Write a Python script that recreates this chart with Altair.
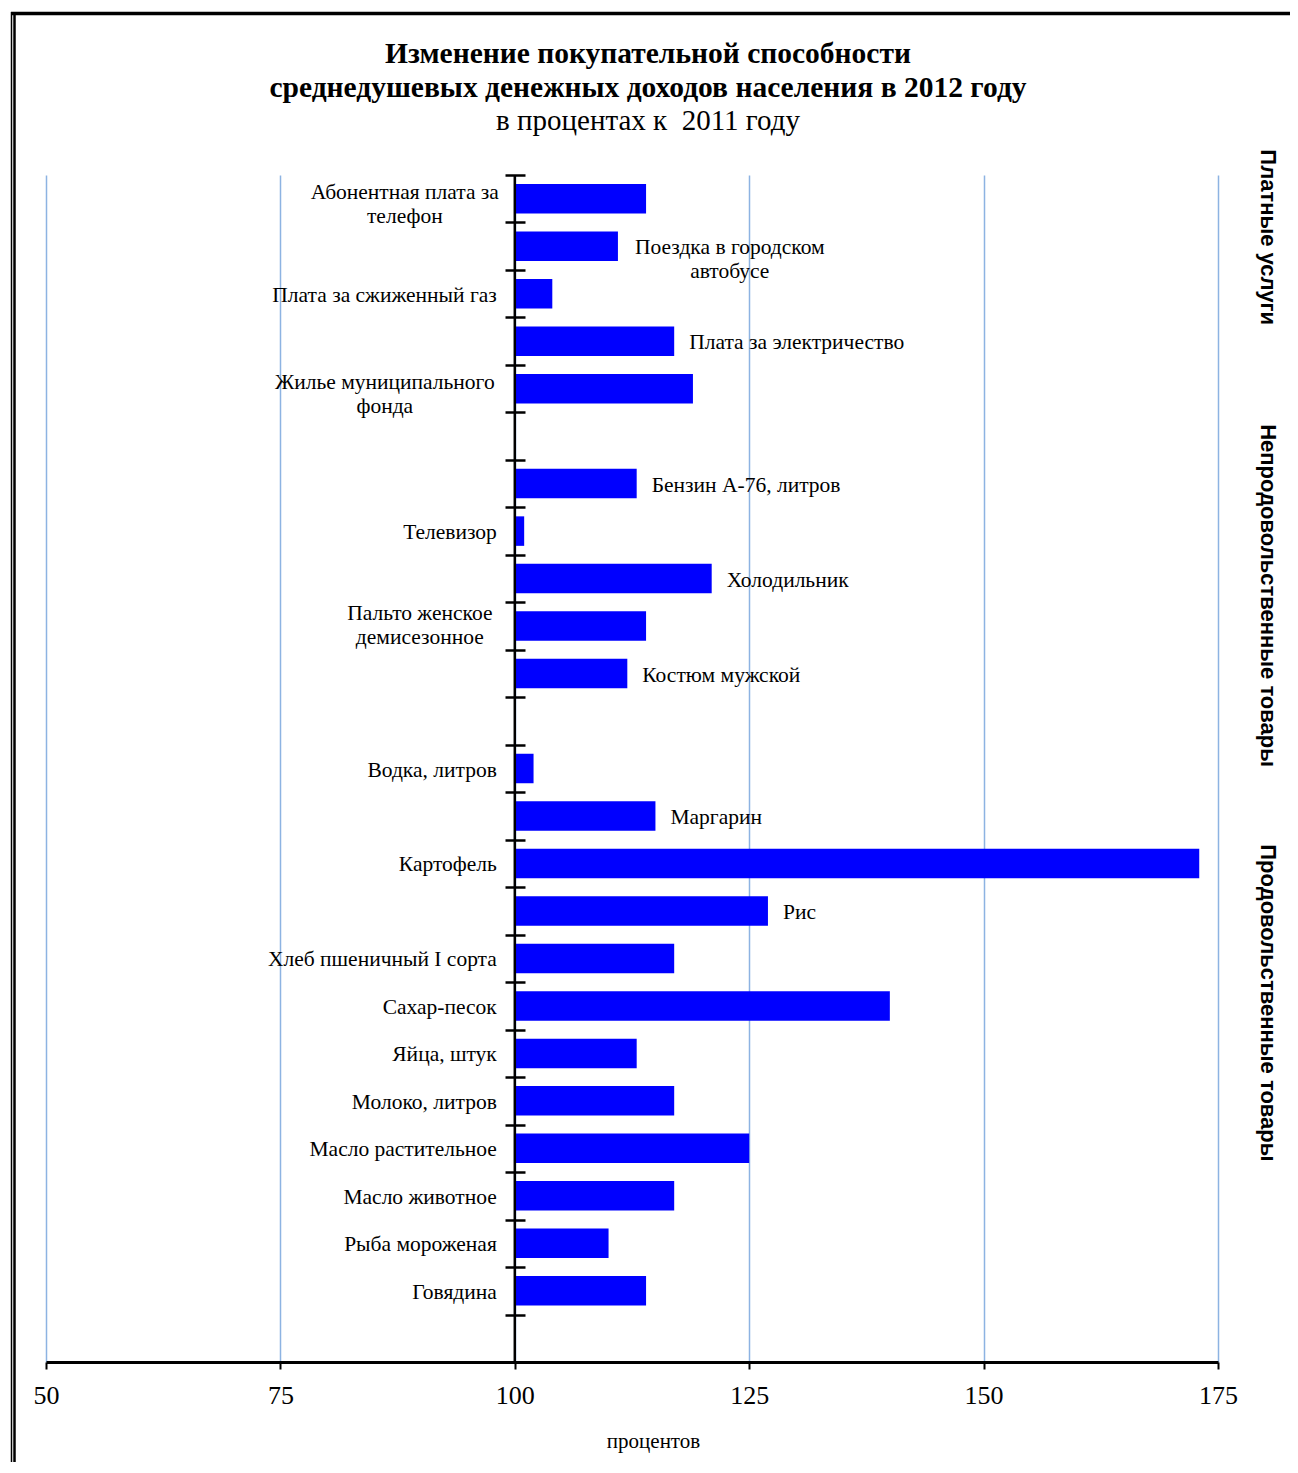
import altair as alt
import pandas as pd

# ---------------- data ----------------
categories = [
    "Абонентная плата за телефон", "Поездка в городском автобусе", "Плата за сжиженный газ",
    "Плата за электричество", "Жилье муниципального фонда",
    "Бензин А-76, литров", "Телевизор", "Холодильник", "Пальто женское демисезонное", "Костюм мужской",
    "Водка, литров", "Маргарин", "Картофель", "Рис", "Хлеб пшеничный I сорта", "Сахар-песок",
    "Яйца, штук", "Молоко, литров", "Масло растительное", "Масло животное", "Рыба мороженая", "Говядина",
]
values = [114, 111, 104, 117, 119,
          113, 101, 121, 114, 112,
          102, 115, 173, 127, 117, 140, 113, 117, 125, 117, 110, 114]
labels = [
    "Абонентная плата за\nтелефон", "Поездка в городском\nавтобусе", "Плата за сжиженный газ",
    "Плата за электричество", "Жилье муниципального\nфонда",
    "Бензин А-76, литров", "Телевизор", "Холодильник", "Пальто женское\nдемисезонное", "Костюм мужской",
    "Водка, литров", "Маргарин", "Картофель", "Рис", "Хлеб пшеничный I сорта", "Сахар-песок",
    "Яйца, штук", "Молоко, литров", "Масло растительное", "Масло животное", "Рыба мороженая", "Говядина",
]
label_sides = ["L", "R", "L", "R", "L",
               "R", "L", "R", "L", "R",
               "L", "R", "L", "R", "L", "L", "L", "L", "L", "L", "L", "L"]
gap_slots = ["gap1", "gap2", "gap3"]
group_titles = ["Платные услуги", "Непродовольственные товары", "Продовольственные товары"]
group_anchor = ["Поездка в городском автобусе", "Холодильник", "Сахар-песок"]
x_ticks = [50, 75, 100, 125, 150, 175]
base_value = 100

# order of slots from top to bottom (empty slots separate the groups)
y_domain = categories[:5] + [gap_slots[0]] + categories[5:10] + [gap_slots[1]] + categories[10:] + [gap_slots[2]]

df = pd.DataFrame({"category": categories, "value": values, "label": labels, "side": label_sides})
df["multi"] = df["label"].str.contains("\n")
gdf = pd.DataFrame({"group": group_titles, "category": group_anchor})
dummy = pd.DataFrame({"a": [0]})

# ---------------- style ----------------
W, H = 1172, 1187
AXIS_X = 469  # pixel position of value 100 inside plot
SERIF = "Liberation Serif"
LBL_SIZE = 21.5
multi_dx = {"Абонентная плата за телефон": (-110, -6), "Поездка в городском автобусе": (215, 2),
            "Жилье муниципального фонда": (-130, -6), "Пальто женское демисезонное": (-95, -12)}
group_shift = [-9, 17, -3]  # along the (rotated) text direction, i.e. vertical on screen

xscale = alt.Scale(domain=[50, 175], nice=False, zero=False)
yscale = alt.Scale(domain=y_domain, paddingInner=0, paddingOuter=0)

xaxis = alt.Axis(values=x_ticks, title="процентов", grid=True, gridColor="#8DB3E2", gridWidth=1.5,
                 domainColor="black", domainWidth=3, tickColor="black", tickWidth=2, tickSize=7,
                 labelFont=SERIF, labelFontSize=26, labelColor="black", labelPadding=13, labelFlush=False,
                 titleFont=SERIF, titleFontSize=21, titleFontWeight="normal", titleColor="black",
                 titlePadding=22, titleX=607)
yaxis = alt.Axis(labels=False, title=None, offset=-(AXIS_X + 10), domain=False,
                 tickColor="black", tickWidth=2.5, tickSize=20, tickBand="extent", grid=False, zindex=1)

Y = alt.Y("category:N", scale=yscale, sort=None, axis=yaxis)
XV = alt.X("value:Q", scale=xscale, axis=xaxis)
XB = alt.X(datum=base_value, scale=xscale, axis=xaxis)

base = alt.Chart(df)

bars = base.mark_bar(color="#0000FF", size=29.5).encode(y=Y, x=XV, x2=alt.datum(base_value))

axis_line = alt.Chart(dummy).mark_rule(color="black", strokeWidth=2.5).encode(
    x=XB, y=alt.value(0), y2=alt.value(H))

left_lbl = base.transform_filter("datum.side == 'L' && !datum.multi").mark_text(
    align="right", baseline="middle", dx=-18, dy=2, font=SERIF, fontSize=LBL_SIZE, color="black"
).encode(y=Y, x=XB, text="label:N")

right_lbl = base.transform_filter("datum.side == 'R' && !datum.multi").mark_text(
    align="left", baseline="middle", dx=15, dy=2, font=SERIF, fontSize=LBL_SIZE, color="black"
).encode(y=Y, x=XV, text="label:N")

multi_layers = []
for cat, (dx, dy) in multi_dx.items():
    multi_layers.append(
        base.transform_filter(alt.datum.category == cat).mark_text(
            align="center", baseline="middle", lineBreak="\n", lineHeight=24, dx=dx, dy=dy,
            font=SERIF, fontSize=LBL_SIZE, color="black"
        ).encode(y=Y, x=XB, text="label:N")
    )

group_layers = []
for g, shift in zip(group_titles, group_shift):
    group_layers.append(
        alt.Chart(gdf).transform_filter(alt.datum.group == g).mark_text(
            angle=90, align="center", baseline="middle", font="Liberation Sans", fontSize=22,
            fontWeight="bold", color="black", dx=shift
        ).encode(y=Y, x=alt.value(W + 50), text="group:N")
    )

border_top = alt.Chart(dummy).mark_rule(color="black", strokeWidth=3.5).encode(
    x=alt.value(-35), x2=alt.value(W + 72), y=alt.value(-161.5))
border_l1 = alt.Chart(dummy).mark_rule(color="black", strokeWidth=1.5).encode(
    x=alt.value(-34.5), y=alt.value(-163), y2=alt.value(H + 110))
border_l2 = alt.Chart(dummy).mark_rule(color="black", strokeWidth=2.5).encode(
    x=alt.value(-31.5), y=alt.value(-160), y2=alt.value(H + 110))

chart = alt.layer(
    bars, axis_line, left_lbl, right_lbl, *multi_layers, *group_layers, border_top, border_l1, border_l2
).properties(
    width=W, height=H,
    padding={"left": 38, "top": 167, "right": 72, "bottom": 100},
    autosize=alt.AutoSizeParams(type="none"),
    title=alt.TitleParams(
        text=["Изменение покупательной способности",
              "среднедушевых денежных доходов населения в 2012 году"],
        subtitle="в процентах к\u00a0 2011 году",
        font=SERIF, fontSize=29.5, fontWeight="bold", color="black", lineHeight=34,
        subtitleFont=SERIF, subtitleFontSize=29, subtitleColor="black", subtitleFontWeight="normal",
        subtitlePadding=4, anchor="middle", frame="group", offset=-126, dx=16,
    ),
).configure_view(stroke=None)

chart.save("out.html", embed_options={"renderer": "svg", "actions": False})
